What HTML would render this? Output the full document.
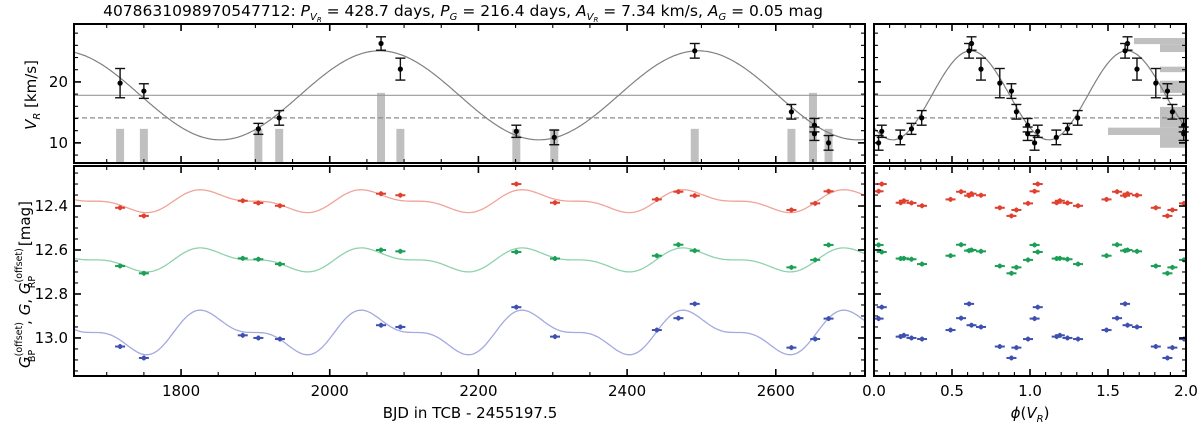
<!DOCTYPE html>
<html><head><meta charset="utf-8">
<style>
html,body{margin:0;padding:0;background:#fff;}
svg{display:block;font-family:"DejaVu Sans","Liberation Sans",sans-serif;}
</style></head>
<body>
<svg id="chart" width="1200" height="429" viewBox="0 0 1200 429" xmlns="http://www.w3.org/2000/svg">
<text x="463" y="16" font-size="15.5" text-anchor="middle">4078631098970547712: <tspan font-style="italic">P</tspan><tspan font-style="italic" font-size="10" dy="4">V</tspan><tspan font-style="italic" font-size="7" dy="2">R</tspan><tspan dy="-6"> = 428.7 days, </tspan><tspan font-style="italic">P</tspan><tspan font-style="italic" font-size="10" dy="4">G</tspan><tspan dy="-4"> = 216.4 days, </tspan><tspan font-style="italic">A</tspan><tspan font-style="italic" font-size="10" dy="4">V</tspan><tspan font-style="italic" font-size="7" dy="2">R</tspan><tspan dy="-6"> = 7.34 km/s, </tspan><tspan font-style="italic">A</tspan><tspan font-style="italic" font-size="10" dy="4">G</tspan><tspan dy="-4"> = 0.05 mag</tspan></text>
<g id="layer"></g>
<text x="470" y="418" font-size="15" text-anchor="middle">BJD in TCB - 2455197.5</text>
<text x="1030" y="418" font-size="15" text-anchor="middle"><tspan font-style="italic">ϕ</tspan>(<tspan font-style="italic">V</tspan><tspan font-style="italic" font-size="10" dy="4">R</tspan><tspan dy="-4">)</tspan></text>
<text transform="translate(36,95) rotate(-90)" font-size="15" text-anchor="middle"><tspan font-style="italic">V</tspan><tspan font-style="italic" font-size="10" dy="4">R</tspan><tspan dy="-4">  [km/s]</tspan></text>
<text transform="translate(30,368) rotate(-90)" font-size="15" text-anchor="start"><tspan font-style="italic">G</tspan><tspan font-size="9.5" dy="-8">(offset)</tspan><tspan font-size="9.5" dx="-40" dy="13">BP</tspan><tspan dx="25" dy="-5">,  </tspan><tspan font-style="italic">G</tspan><tspan>,  </tspan><tspan font-style="italic">G</tspan><tspan font-size="9.5" dy="-8">(offset)</tspan><tspan font-size="9.5" dx="-40" dy="13">RP</tspan><tspan dx="25" dy="-5">  [mag]</tspan></text>
</svg>
<script>
// ---- data ----
const rvTimes = [1718,1750,1904,1932,2069,2095,2251,2302,2491,2621,2652,2652,2671];
const rvValues = [19.8,18.5,12.3,14.1,26.3,22.1,11.9,10.9,25.1,15.1,12.9,11.5,10.0];
const rvErrors = [2.4,1.2,0.9,1.2,1.1,1.8,1.0,1.2,1.2,1.2,1.1,1.1,1.2];
const timeHistCenters = [1718,1750,1904,1932,2069,2095,2251,2302,2491,2621,2650,2671];
const timeHistCounts = [1,1,1,1,2,1,1,1,1,1,2,1];
const rvHistLo = [26.2,24.9,21.6,18.2,12.5,11.3,9.2];
const rvHistHi = [27.2,26.2,22.5,20.2,15.9,12.5,11.3];
const rvHistCounts = [2,1,1,1,1,3,1];
const photTimes = [1718,1750,1883,1904,1933,2069,2095,2251,2303,2440,2469,2491,2621,2653,2671];
const rpMags = [12.408,12.445,12.376,12.386,12.399,12.344,12.351,12.300,12.385,12.370,12.335,12.353,12.418,12.388,12.333];
const gMags  = [12.673,12.706,12.638,12.642,12.664,12.600,12.606,12.609,12.639,12.626,12.576,12.603,12.679,12.645,12.577];
const bpMags = [13.039,13.091,12.988,13.000,13.005,12.942,12.950,12.860,12.994,12.964,12.910,12.845,13.044,13.005,12.912];
const rvMean = 17.8, rvDashed = 14.1, rvAmp = 7.3, rvPeriod = 428.7, rvPeakT = 2067, phaseT0 = 1801;
const gPeriod = 216.4, gShoulderT = 1898;
const bandMean = [12.378,12.645,12.975];
const bandAmp = [0.040,0.042,0.078];
const timeTicks = [1800,2000,2200,2400,2600];
const rvTicks = [10,20];
const magTicks = [12.4,12.6,12.8,13.0];
const phaseTicks = [0.0,0.5,1.0,1.5,2.0];

// ---- scales ----
const L = {x0:74,x1:865}, R = {x0:874,x1:1186};
const T = {y0:24,y1:163}, B = {y0:166,y1:376};
const tMin=1656,tMax=2720, vMax=29.5,vMin=6.7, mMin=12.218,mMax=13.173;
const xt = t => L.x0+(t-tMin)/(tMax-tMin)*(L.x1-L.x0);
const xp = p => R.x0+p/2*(R.x1-R.x0);
const yv = v => T.y0+(vMax-v)/(vMax-vMin)*(T.y1-T.y0);
const ym = m => B.y0+(m-mMin)/(mMax-mMin)*(B.y1-B.y0);
const histLen = c => c*26;
const barBase = 12.3, barTall = 18.2;
const barTop = c => c>1 ? yv(barTall) : yv(barBase);
const phaseOf = t => (((t-phaseT0)/rvPeriod)%1+1)%1;
const rvModelT = t => rvMean+rvAmp*Math.cos(2*Math.PI*(t-rvPeakT)/rvPeriod);
const rvModelP = p => rvModelT(phaseT0+p*rvPeriod);
const magModel = (i,t) => { const x=2*Math.PI*(t-gShoulderT)/gPeriod; return bandMean[i]+bandAmp[i]*(Math.sin(x)-0.5*Math.sin(2*x)); };

const NS="http://www.w3.org/2000/svg";
const layer=document.getElementById('layer');
function mk(tag,attrs,parent){const e=document.createElementNS(NS,tag);for(const k in attrs)e.setAttribute(k,attrs[k]);(parent||layer).appendChild(e);return e;}
function grp(name){const g=mk('g',{});


return g;}
function clip(id,x0,y0,x1,y1){const d=mk('clipPath',{id:id});mk('rect',{x:x0,y:y0,width:x1-x0,height:y1-y0},d);}
clip('cTL',L.x0,T.y0,L.x1,T.y1);clip('cBL',L.x0,B.y0,L.x1,B.y1);clip('cTR',R.x0,T.y0,R.x1,T.y1);clip('cBR',R.x0,B.y0,R.x1,B.y1);

const cols=['#e0412f','#1b9e55','#3f51b0'], curveCols=['#f2a399','#8fd2ae','#a3aadf'];
const bandNames=['rp','g','bp'], bandData=[rpMags,gMags,bpMags];

// ---- top-left: time histogram bars ----
let g=grp('time-histogram'); g.setAttribute('clip-path','url(#cTL)');
timeHistCenters.forEach((t,i)=>{const top=barTop(timeHistCounts[i]);
const r=mk('rect',{x:xt(t)-4,y:top,width:8,height:T.y1-top,fill:'#c0c0c0'},g);

});

// ---- top-left lines ----
g=grp('rv-reference-lines');
mk('line',{x1:L.x0,x2:L.x1,y1:yv(rvMean),y2:yv(rvMean),stroke:'#9a9a9a','stroke-width':1.2},g);
mk('line',{x1:L.x0,x2:L.x1,y1:yv(rvDashed),y2:yv(rvDashed),stroke:'#8a8a8a','stroke-width':1.2,'stroke-dasharray':'5,3'},g);
let d='';for(let t=tMin;t<=tMax;t+=2){d+=(d?'L':'M')+xt(t).toFixed(1)+','+yv(rvModelT(t)).toFixed(1);}
g=grp('rv-model-curve-time');g.setAttribute('clip-path','url(#cTL)');
mk('path',{d:d,fill:'none',stroke:'#808080','stroke-width':1.2},g);
function errPt(parent,x,v,e,name){const gg=mk('g',{},parent);


mk('line',{x1:x,x2:x,y1:yv(v+e),y2:yv(v-e),stroke:'#111','stroke-width':1.4},gg);
mk('line',{x1:x-5,x2:x+5,y1:yv(v+e),y2:yv(v+e),stroke:'#111','stroke-width':1.4},gg);
mk('line',{x1:x-5,x2:x+5,y1:yv(v-e),y2:yv(v-e),stroke:'#111','stroke-width':1.4},gg);
mk('circle',{cx:x,cy:yv(v),r:2.6,fill:'#000'},gg);}
g=grp('rv-points-time');
rvTimes.forEach((t,i)=>errPt(g,xt(t),rvValues[i],rvErrors[i],'rv-point'));

// ---- top-right: phase ----
g=grp('rv-histogram');g.setAttribute('clip-path','url(#cTR)');
rvHistLo.forEach((lo,i)=>{const r=mk('rect',{x:R.x1-histLen(rvHistCounts[i]),y:yv(rvHistHi[i]),width:histLen(rvHistCounts[i]),height:yv(lo)-yv(rvHistHi[i]),fill:'#c0c0c0'},g);

});
g=grp('rv-reference-lines-phase');
mk('line',{x1:R.x0,x2:R.x1,y1:yv(rvMean),y2:yv(rvMean),stroke:'#9a9a9a','stroke-width':1.2},g);
mk('line',{x1:R.x0,x2:R.x1,y1:yv(rvDashed),y2:yv(rvDashed),stroke:'#8a8a8a','stroke-width':1.2,'stroke-dasharray':'5,3'},g);
d='';for(let p=0;p<=2.0001;p+=0.01){d+=(d?'L':'M')+xp(p).toFixed(1)+','+yv(rvModelP(p)).toFixed(1);}
g=grp('rv-model-curve-phase');g.setAttribute('clip-path','url(#cTR)');
mk('path',{d:d,fill:'none',stroke:'#808080','stroke-width':1.2},g);
g=grp('rv-points-phase');
[0,1].forEach(k=>rvTimes.forEach((t,i)=>errPt(g,xp(phaseOf(t)+k),rvValues[i],rvErrors[i],'rv-phase-point')));

// ---- bottom: photometry ----
[0,1,2].forEach(b=>{
  let dd='';for(let t=tMin;t<=tMax;t+=2){dd+=(dd?'L':'M')+xt(t).toFixed(1)+','+ym(magModel(b,t)).toFixed(1);}
  const gc=grp(bandNames[b]+'-model-curve');gc.setAttribute('clip-path','url(#cBL)');
  mk('path',{d:dd,fill:'none',stroke:curveCols[b],'stroke-width':1.3},gc);
  const gp=grp(bandNames[b]+'-points-time');
  bandData[b].forEach((m,i)=>{const x=xt(photTimes[i]),y=ym(m);
    const pg=mk('g',{},gp);
    
    
    mk('line',{x1:x-5,x2:x+5,y1:y,y2:y,stroke:cols[b],'stroke-width':2},pg);
    mk('line',{x1:x,x2:x,y1:y-2.5,y2:y+2.5,stroke:cols[b],'stroke-width':1.5},pg);
    mk('circle',{cx:x,cy:y,r:2.3,fill:cols[b]},pg);});
  const gq=grp(bandNames[b]+'-points-phase');gq.setAttribute('clip-path','url(#cBR)');
  [0,1].forEach(k=>bandData[b].forEach((m,i)=>{const x=xp(phaseOf(photTimes[i])+k),y=ym(m);
    const pg=mk('g',{},gq);
    
    
    mk('line',{x1:x-5,x2:x+5,y1:y,y2:y,stroke:cols[b],'stroke-width':2},pg);
    mk('line',{x1:x,x2:x,y1:y-2.5,y2:y+2.5,stroke:cols[b],'stroke-width':1.5},pg);
    mk('circle',{cx:x,cy:y,r:2.3,fill:cols[b]},pg);}));
});

// ---- frames and ticks ----
function frame(x0,y0,x1,y1,name){const r=mk('rect',{x:x0,y:y0,width:x1-x0,height:y1-y0,fill:'none',stroke:'#000','stroke-width':2});

}
function xticks(x0,x1,y0,y1,vals,sc){vals.forEach(([v,maj])=>{const x=sc(v);if(x<x0+0.5||x>x1-0.5)return;const len=maj?7:4;
 mk('line',{x1:x,x2:x,y1:y1,y2:y1-len,stroke:'#000','stroke-width':maj?1.6:1.1});
 mk('line',{x1:x,x2:x,y1:y0,y2:y0+len,stroke:'#000','stroke-width':maj?1.6:1.1});});}
function yticks(x0,x1,y0,y1,vals,sc){vals.forEach(([v,maj])=>{const y=sc(v);if(y<y0+0.5||y>y1-0.5)return;const len=maj?7:4;
 mk('line',{x1:x0,x2:x0+len,y1:y,y2:y,stroke:'#000','stroke-width':maj?1.6:1.1});
 mk('line',{x1:x1,x2:x1-len,y1:y,y2:y,stroke:'#000','stroke-width':maj?1.6:1.1});});}
const tt=[];for(let t=1650;t<=2720;t+=50)tt.push([t,t%200===0]);
const vt=[];for(let v=6;v<=30;v+=2)vt.push([v,v%10===0]);
const mt=[];for(let m=12.2;m<=13.2;m+=0.05)mt.push([Math.round(m*100)/100,Math.round(m*100)%20===0]);
const pt=[];for(let p=0;p<=20;p++)pt.push([p/10,p%5===0]);
xticks(L.x0,L.x1,T.y0,T.y1,tt,xt);yticks(L.x0,L.x1,T.y0,T.y1,vt,yv);
xticks(L.x0,L.x1,B.y0,B.y1,tt,xt);yticks(L.x0,L.x1,B.y0,B.y1,mt,ym);
xticks(R.x0,R.x1,T.y0,T.y1,pt,xp);yticks(R.x0,R.x1,T.y0,T.y1,vt,yv);
xticks(R.x0,R.x1,B.y0,B.y1,pt,xp);yticks(R.x0,R.x1,B.y0,B.y1,mt,ym);
frame(L.x0,T.y0,L.x1,T.y1,'rv-time-panel');frame(L.x0,B.y0,L.x1,B.y1,'photometry-time-panel');
frame(R.x0,T.y0,R.x1,T.y1,'rv-phase-panel');frame(R.x0,B.y0,R.x1,B.y1,'photometry-phase-panel');

function label(x,y,txt,anchor,name){const e=mk('text',{x:x,y:y,'font-size':15,'text-anchor':anchor});e.textContent=txt;

}
timeTicks.forEach(t=>label(xt(t),396,String(t),'middle','x-tick-label'));
phaseTicks.forEach(p=>label(xp(p),396,p.toFixed(1),'middle','phase-tick-label'));
rvTicks.forEach(v=>label(L.x0-6,yv(v)+5,String(v),'end','rv-tick-label'));
magTicks.forEach(m=>label(L.x0-6,ym(m)+5,m.toFixed(1),'end','mag-tick-label'));
</script>
</body></html>
